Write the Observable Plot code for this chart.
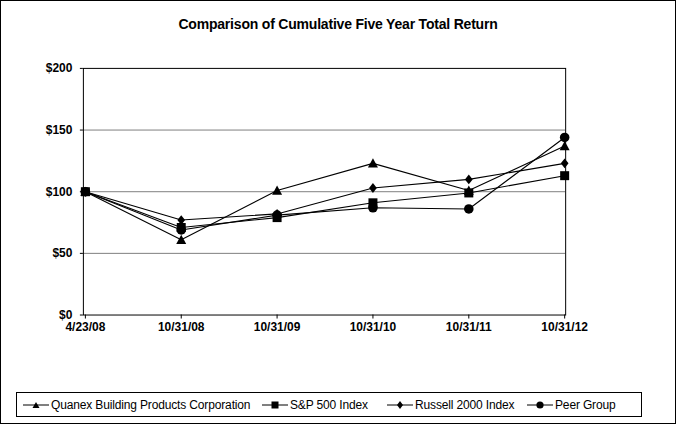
<!DOCTYPE html>
<html>
<head>
<meta charset="utf-8">
<script src="https://cdn.jsdelivr.net/npm/d3@7"></script>
<script src="https://cdn.jsdelivr.net/npm/@observablehq/plot@0.6"></script>
<style>
  html, body { margin: 0; padding: 0; background: #fff; }
  #wrap { position: relative; width: 676px; height: 424px; border: 1px solid #000; box-sizing: border-box; overflow: hidden; background:#fff; }
  #chart { position: absolute; left: -1px; top: -1px; }
  #title { position: absolute; left: -1px; top: 14px; width: 676px; text-align: center;
    font: bold 14px "Liberation Sans", Arial, sans-serif; line-height: 18px; color: #000; letter-spacing: -0.2px; }
  #legend { position: absolute; left: 15px; top: 391px; width: 626px; height: 25px; border: 1px solid #000; box-sizing: border-box; }
  .item { position: absolute; top: 0; height: 23px; display: flex; align-items: center;
    font: 12px "Liberation Sans", Arial, sans-serif; color: #000; white-space: nowrap; letter-spacing: -0.15px; }
  .item svg { margin-right: 2px; }
</style>
</head>
<body>
<div id="wrap">
  <div id="chart"></div>
  <div id="title">Comparison of Cumulative Five Year Total Return</div>
  <div id="legend"></div>
</div>
<script>
const dates = ["4/23/08", "10/31/08", "10/31/09", "10/31/10", "10/31/11", "10/31/12"];
const seriesNames = ["Quanex Building Products Corporation", "S&P 500 Index", "Russell 2000 Index", "Peer Group"];
const quanex  = [100, 61, 101, 123, 101, 137];
const sp500   = [100, 71, 79, 91, 99, 113];
const russell = [100, 77, 82, 103, 110, 123];
const peer    = [100, 69, 81, 87, 86, 144];
const yTicks = [0, 50, 100, 150, 200];
const gridTicks = [50, 100, 150];

const valuesList = [quanex, sp500, russell, peer];
const data = [];
seriesNames.forEach((name, i) => {
  dates.forEach((d, j) => data.push({series: name, date: d, value: valuesList[i][j]}));
});

// custom symbols; s = r
const rad = size => Math.sqrt(size / Math.PI);
const triSym = { draw(c, size) { const s = rad(size); c.moveTo(0, -s * 1.0); c.lineTo(s, s * 0.85); c.lineTo(-s, s * 0.85); c.closePath(); } };
const sqSym = { draw(c, size) { const s = rad(size); c.moveTo(-s, -s); c.lineTo(s, -s); c.lineTo(s, s); c.lineTo(-s, s); c.closePath(); } };
const diaSym = { draw(c, size) { const s = rad(size); c.moveTo(0, -s * 1.15); c.lineTo(s * 0.9, 0); c.lineTo(0, s * 1.15); c.lineTo(-s * 0.9, 0); c.closePath(); } };
const cirSym = { draw(c, size) { const s = rad(size); c.moveTo(s, 0); c.arc(0, 0, s, 0, 2 * Math.PI); c.closePath(); } };
const symbols = [triSym, sqSym, diaSym, cirSym];
const symR = [5, 4.5, 4.3, 4.8];

const axisFont = '"Liberation Sans", Arial, sans-serif';

const marks = [
  Plot.gridY(gridTicks, {stroke: "#808080", strokeOpacity: 1, strokeWidth: 1}),
  Plot.axisX({tickSize: 4, tickPadding: 3, fontWeight: "bold", fontSize: 12, fontFamily: axisFont, label: null}),
  Plot.axisY(yTicks, {tickSize: 3, tickPadding: 8, fontWeight: "bold", fontSize: 12, fontFamily: axisFont, tickFormat: d => "$" + d, label: null}),
  Plot.frame({stroke: "#000", strokeWidth: 1})
];
seriesNames.forEach((name, i) => {
  const sub = data.filter(d => d.series === name);
  marks.push(Plot.line(sub, {x: "date", y: "value", stroke: "#000", strokeWidth: 1.1}));
});
seriesNames.forEach((name, i) => {
  const sub = data.filter(d => d.series === name);
  marks.push(Plot.dot(sub, {x: "date", y: "value", symbol: () => symbols[i], r: symR[i], fill: "#000", stroke: "none"}));
});

const chart = Plot.plot({
  width: 676,
  height: 424,
  marginLeft: 83,
  marginRight: 110,
  marginTop: 68,
  marginBottom: 109,
  style: {background: "transparent", fontFamily: axisFont, color: "#000"},
  x: {type: "point", domain: dates, padding: 0, label: null},
  y: {domain: [0, 200], label: null},
  symbol: {type: "identity"},
  marks
});
document.getElementById("chart").appendChild(chart);

// legend
const legendX = [6, 245, 370, 510];
const legSym = [
  '<path d="M13,3 L16.5,9 L9.5,9 Z" fill="#000"/>',
  '<rect x="9.5" y="2.5" width="7" height="7" fill="#000"/>',
  '<path d="M13,2 L16,6 L13,10 L10,6 Z" fill="#000"/>',
  '<circle cx="13" cy="6" r="3.6" fill="#000"/>'
];
const legend = document.getElementById("legend");
seriesNames.forEach((name, i) => {
  const div = document.createElement("div");
  div.className = "item";
  div.style.left = legendX[i] + "px";
  div.innerHTML = `<svg width="26" height="12"><line x1="0" x2="26" y1="6" y2="6" stroke="#000" stroke-width="1"/>${legSym[i]}</svg><span></span>`;
  div.querySelector("span").textContent = name;
  legend.appendChild(div);
});
</script>
</body>
</html>
